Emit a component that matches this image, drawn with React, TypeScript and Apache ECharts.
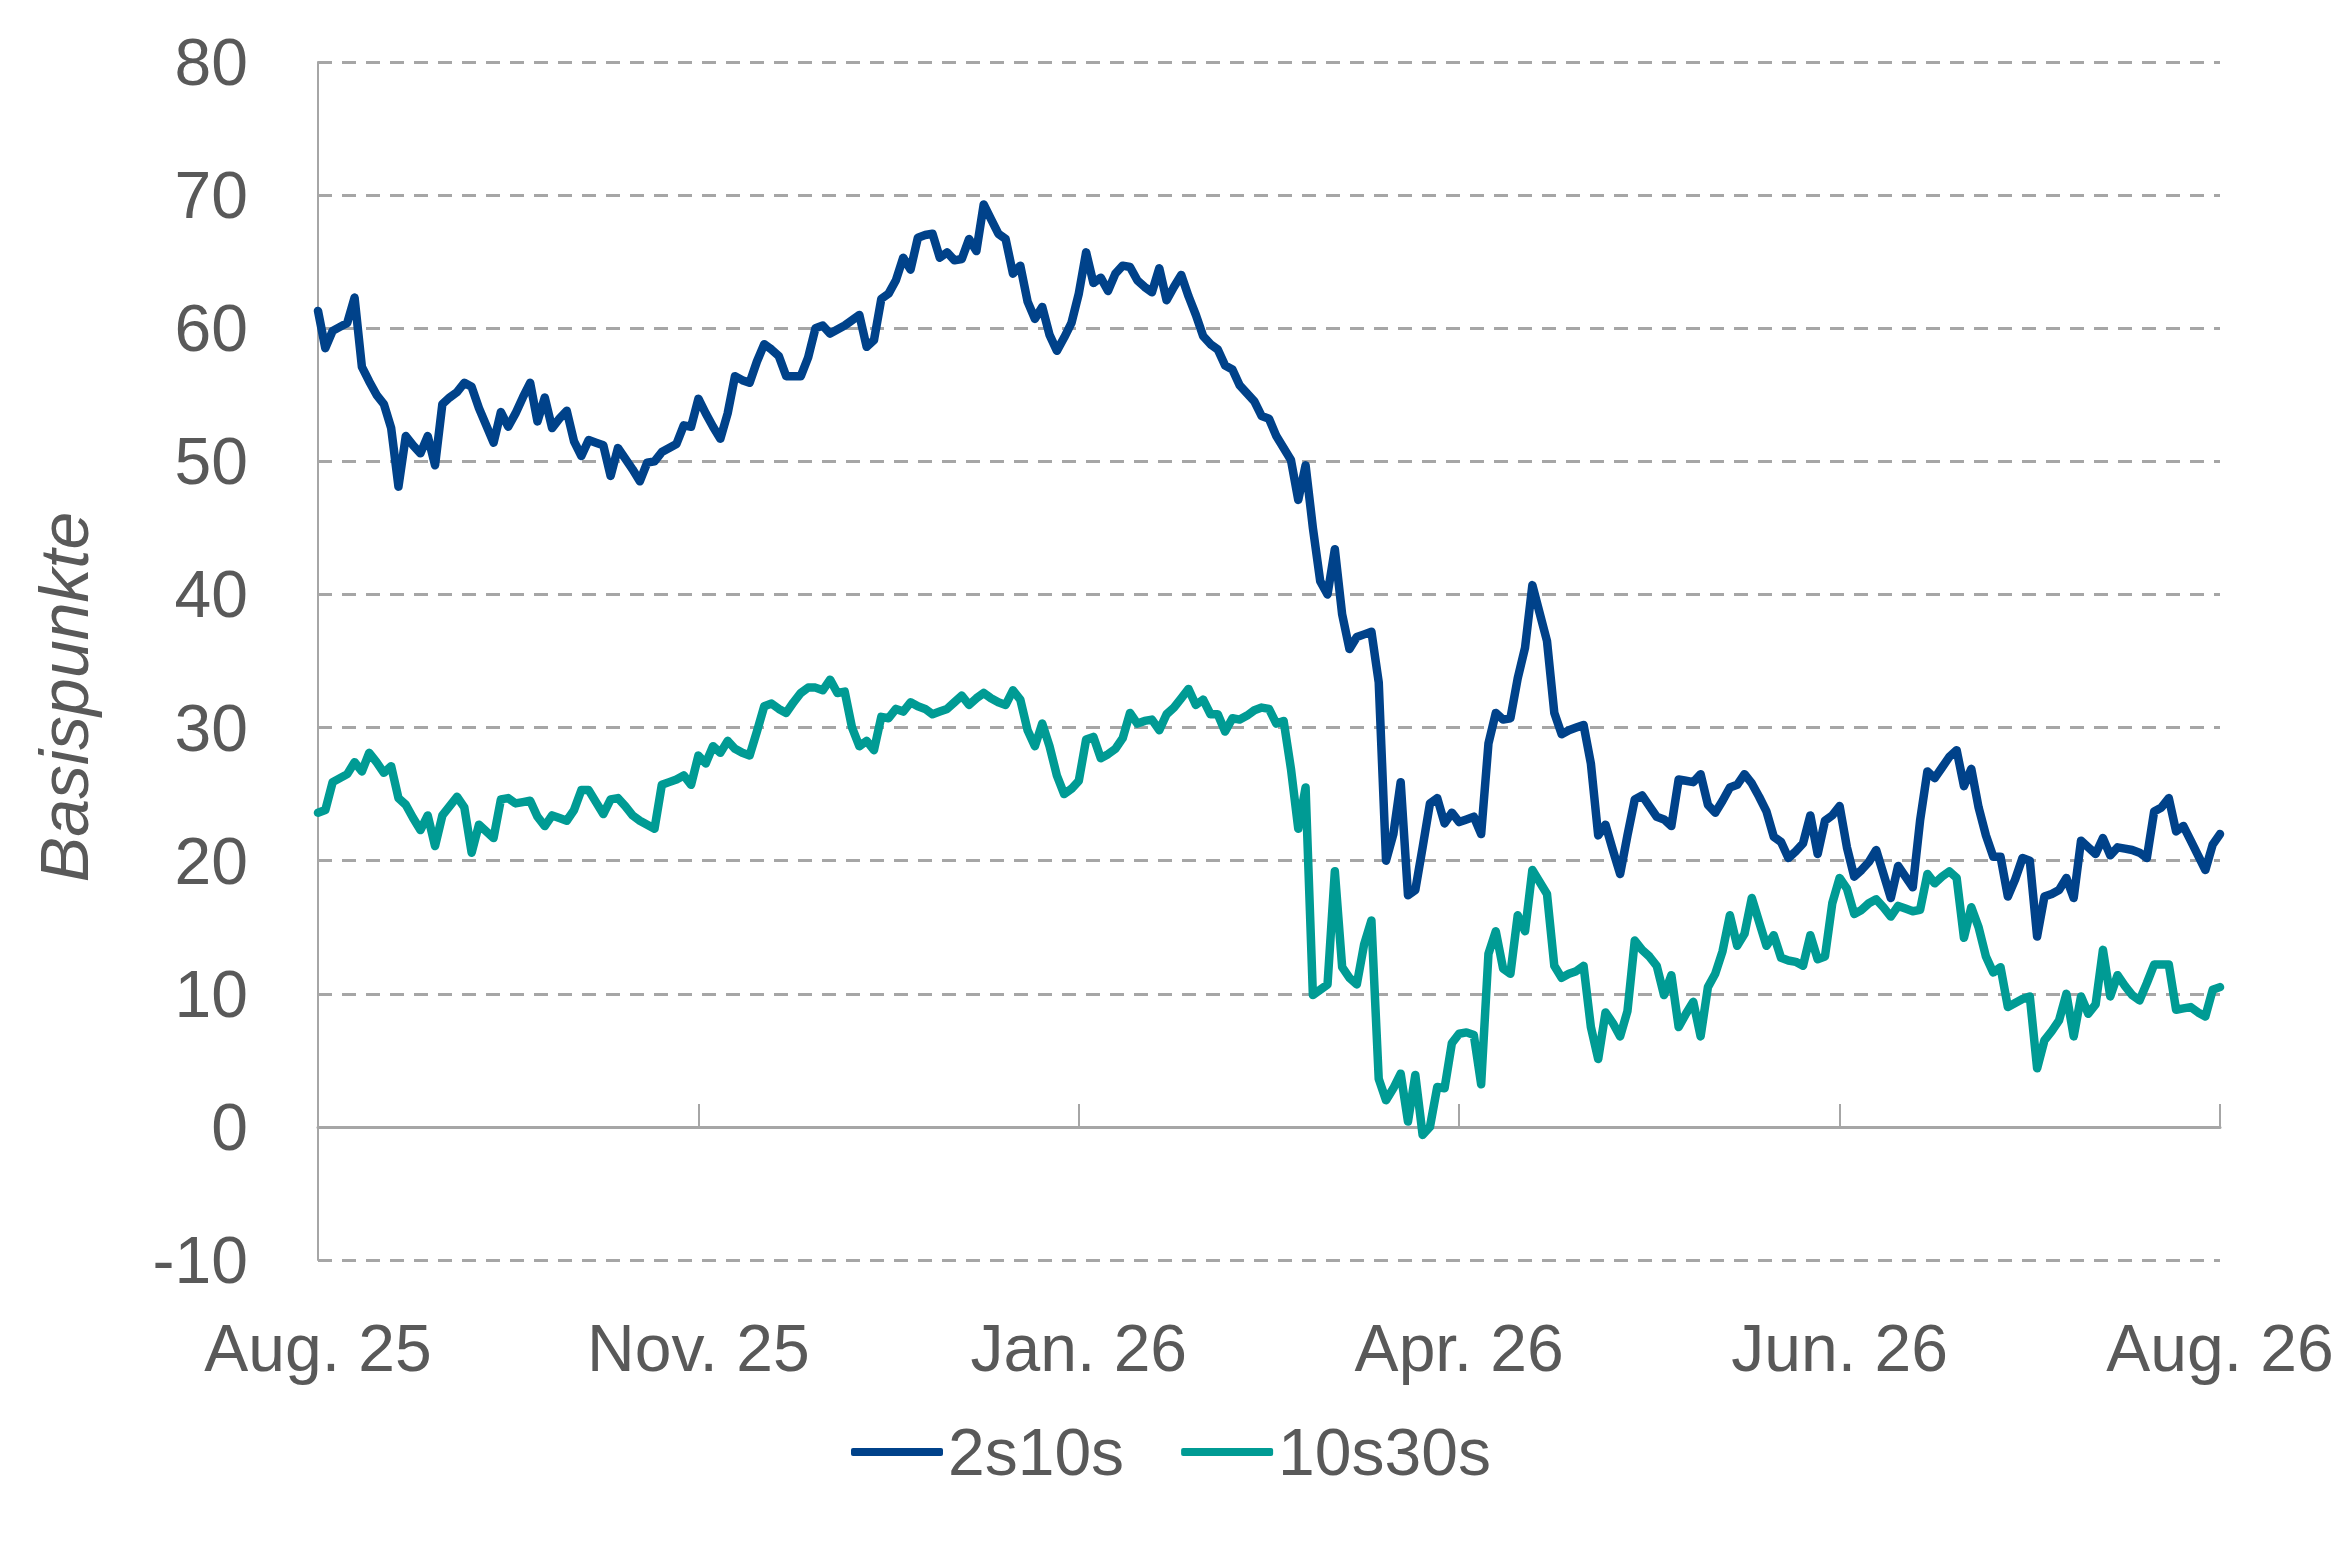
import { useEffect, useRef } from 'react';
import * as echarts from 'echarts';

// Tageswerte (Handelstage), in Basispunkten
const TICK_LABELS = ['Aug. 25', 'Nov. 25', 'Jan. 26', 'Apr. 26', 'Jun. 26', 'Aug. 26'];
const LABEL_STEP = 52;

const SPREAD_2S10S = [
  61.3, 58.5, 59.8, 60.1, 60.4, 62.3, 57.1, 56.0, 55.0, 54.3,
  52.5, 48.1, 51.9, 51.2, 50.6, 51.9, 49.7, 54.3, 54.8, 55.2,
  55.9, 55.6, 54.0, 52.7, 51.4, 53.7, 52.6, 53.6, 54.8, 55.9,
  53.0, 54.8, 52.5, 53.2, 53.8, 51.5, 50.4, 51.6, 51.4, 51.2,
  48.9, 51.0, 50.2, 49.4, 48.5, 49.9, 50.0, 50.7, 51.0, 51.3,
  52.7, 52.6, 54.7, 53.6, 52.6, 51.7, 53.6, 56.4, 56.1, 55.9,
  57.5, 58.8, 58.4, 57.9, 56.4, 56.4, 56.4, 57.8, 60.0, 60.2,
  59.6, 59.9, 60.2, 60.6, 61.0, 58.6, 59.1, 62.2, 62.6, 63.6,
  65.3, 64.4, 66.8, 67.0, 67.1, 65.3, 65.7, 65.1, 65.2, 66.7,
  65.8, 69.3, 68.2, 67.1, 66.7, 64.1, 64.7, 62.0, 60.7, 61.6,
  59.5, 58.3, 59.3, 60.4, 62.6, 65.7, 63.4, 63.8, 62.8, 64.1,
  64.7, 64.6, 63.6, 63.1, 62.7, 64.5, 62.1, 63.1, 64.0, 62.4,
  61.0, 59.4, 58.8, 58.4, 57.2, 56.9, 55.7, 55.1, 54.5, 53.4,
  53.2, 51.9, 51.0, 50.1, 47.1, 49.7, 45.0, 41.0, 40.0, 43.4,
  38.5, 35.9, 36.8, 37.0, 37.2, 33.4, 20.0, 22.0, 25.9, 17.4,
  17.8, 21.0, 24.3, 24.7, 22.8, 23.6, 22.9, 23.1, 23.3, 22.0,
  28.8, 31.1, 30.6, 30.7, 33.7, 36.0, 40.7, 38.6, 36.5, 31.1,
  29.5, 29.8, 30.0, 30.2, 27.3, 21.9, 22.7, 20.8, 19.0, 21.9,
  24.6, 24.9, 24.1, 23.3, 23.1, 22.6, 26.1, 26.0, 25.9, 26.5,
  24.2, 23.6, 24.5, 25.5, 25.7, 26.5, 25.8, 24.8, 23.7, 21.8,
  21.4, 20.2, 20.7, 21.3, 23.4, 20.5, 23.0, 23.4, 24.1, 21.0,
  18.8, 19.3, 19.9, 20.8, 19.0, 17.2, 19.6, 18.8, 18.0, 23.0,
  26.7, 26.2, 27.0, 27.8, 28.3, 25.6, 26.9, 24.0, 21.9, 20.3,
  20.3, 17.3, 18.6, 20.2, 20.0, 14.3, 17.3, 17.5, 17.8, 18.7,
  17.2, 21.5, 21.0, 20.5, 21.7, 20.4, 21.0, 20.9, 20.8, 20.6,
  20.2, 23.7, 24.0, 24.7, 22.2, 22.6, 21.5, 20.4, 19.3, 21.2,
  22.0,
];

const SPREAD_10S30S = [
  23.6, 23.8, 25.9, 26.2, 26.5, 27.4, 26.7, 28.1, 27.4, 26.6,
  27.1, 24.7, 24.2, 23.2, 22.3, 23.4, 21.1, 23.4, 24.1, 24.8,
  24.0, 20.6, 22.7, 22.2, 21.7, 24.6, 24.7, 24.3, 24.4, 24.5,
  23.3, 22.6, 23.4, 23.2, 23.0, 23.8, 25.3, 25.3, 24.4, 23.5,
  24.6, 24.7, 24.1, 23.4, 23.0, 22.7, 22.4, 25.7, 25.9, 26.1,
  26.4, 25.7, 27.9, 27.3, 28.6, 28.1, 29.0, 28.4, 28.1, 27.9,
  29.7, 31.6, 31.8, 31.4, 31.1, 31.9, 32.6, 33.0, 33.0, 32.8,
  33.6, 32.6, 32.7, 30.0, 28.6, 29.0, 28.3, 30.8, 30.7, 31.4,
  31.2, 31.9, 31.6, 31.4, 31.0, 31.2, 31.4, 31.9, 32.4, 31.7,
  32.2, 32.6, 32.2, 31.9, 31.7, 32.8, 32.1, 29.8, 28.6, 30.3,
  28.6, 26.4, 25.0, 25.4, 26.0, 29.1, 29.3, 27.7, 28.0, 28.4,
  29.2, 31.1, 30.3, 30.5, 30.6, 29.8, 31.0, 31.5, 32.2, 32.9,
  31.7, 32.1, 31.0, 31.0, 29.7, 30.7, 30.6, 30.9, 31.3, 31.5,
  31.4, 30.3, 30.5, 26.9, 22.4, 25.5, 9.9, 10.3, 10.7, 19.2,
  12.0, 11.2, 10.7, 13.7, 15.5, 3.6, 2.0, 2.9, 4.0, 0.4,
  3.9, -0.6, 0.0, 3.0, 2.9, 6.3, 7.0, 7.1, 6.9, 3.2,
  13.0, 14.7, 11.9, 11.5, 15.9, 14.7, 19.3, 18.4, 17.5, 12.1,
  11.2, 11.5, 11.7, 12.1, 7.5, 5.1, 8.6, 7.8, 6.8, 8.7,
  14.0, 13.3, 12.8, 12.1, 9.9, 11.4, 7.5, 8.5, 9.4, 6.8,
  10.5, 11.5, 13.2, 15.9, 13.6, 14.5, 17.2, 15.4, 13.6, 14.4,
  12.7, 12.5, 12.4, 12.1, 14.4, 12.6, 12.8, 16.8, 18.7, 17.9,
  16.0, 16.3, 16.8, 17.1, 16.5, 15.8, 16.6, 16.4, 16.2, 16.3,
  19.0, 18.3, 18.8, 19.2, 18.7, 14.2, 16.5, 15.0, 12.8, 11.6,
  12.0, 9.0, 9.3, 9.6, 9.8, 4.4, 6.5, 7.2, 8.0, 10.0,
  6.8, 9.8, 8.5, 9.2, 13.3, 9.8, 11.4, 10.6, 9.9, 9.5,
  10.8, 12.2, 12.2, 12.2, 8.8, 8.9, 9.0, 8.6, 8.3, 10.3,
  10.5,
];

const DAYS = SPREAD_2S10S.map((_, i) => String(i));

const FONT = "'Liberation Sans', Arial, sans-serif";
const TEXT_COLOR = '#595959';
const GRID_COLOR = '#A6A6A6';

export default function App() {
  const chartRef = useRef<HTMLDivElement>(null);

  useEffect(() => {
    if (!chartRef.current) return;
    const chart = echarts.init(chartRef.current, null, { renderer: 'svg' });

    const isLabelTick = (index: number) => index % LABEL_STEP === 0;

    const option: echarts.EChartsOption = {
      animation: false,
      backgroundColor: '#ffffff',
      textStyle: { fontFamily: FONT },
      grid: {
        left: 318,
        right: 119,
        top: 62,
        bottom: 299,
        containLabel: false,
      },
      xAxis: [
        {
          type: 'category',
          data: DAYS,
          boundaryGap: false,
          axisLine: {
            onZero: true,
            lineStyle: { color: GRID_COLOR, width: 3 },
          },
          axisTick: {
            show: true,
            inside: true,
            length: 23,
            interval: (index: number) => isLabelTick(index),
            lineStyle: { color: GRID_COLOR, width: 2 },
          },
          axisLabel: { show: false },
          splitLine: { show: false },
        },
        {
          type: 'category',
          data: DAYS,
          boundaryGap: false,
          position: 'bottom',
          axisLine: { show: false, onZero: false },
          axisTick: { show: false },
          splitLine: { show: false },
          axisLabel: {
            interval: (index: number) => isLabelTick(index),
            formatter: (_v: string, index: number) => TICK_LABELS[index / LABEL_STEP] ?? '',
            fontSize: 66,
            fontFamily: FONT,
            color: TEXT_COLOR,
            margin: 55,
          },
        },
      ],
      yAxis: {
        type: 'value',
        min: -10,
        max: 80,
        interval: 10,
        axisLine: { show: true, lineStyle: { color: GRID_COLOR, width: 2 } },
        axisTick: { show: false },
        axisLabel: {
          fontSize: 66,
          fontFamily: FONT,
          color: TEXT_COLOR,
          margin: 70,
        },
        splitLine: {
          show: true,
          lineStyle: { color: GRID_COLOR, width: 3, type: [14, 10] },
        },
      },
      legend: {
        data: ['2s10s', '10s30s'],
        left: 846,
        top: 1414,
        icon: 'roundRect',
        itemWidth: 92,
        itemHeight: 8,
        itemGap: 57,
        textStyle: { fontSize: 66, fontFamily: FONT, color: TEXT_COLOR },
      },
      graphic: [
        {
          type: 'text',
          x: 64,
          y: 697,
          rotation: Math.PI / 2,
          style: {
            text: 'Basispunkte',
            font: `italic 68px ${FONT}`,
            fill: TEXT_COLOR,
            textAlign: 'center',
            textVerticalAlign: 'middle',
          },
        },
      ],
      series: [
        {
          name: '2s10s',
          type: 'line',
          data: SPREAD_2S10S,
          symbol: 'none',
          color: '#00428A',
          lineStyle: { width: 8.5, color: '#00428A', join: 'round', cap: 'round' },
        },
        {
          name: '10s30s',
          type: 'line',
          data: SPREAD_10S30S,
          symbol: 'none',
          color: '#009B94',
          lineStyle: { width: 8.5, color: '#009B94', join: 'round', cap: 'round' },
        },
      ],
    };

    chart.setOption(option, true);

    return () => {
      chart.dispose();
    };
  }, []);

  return (
    <div
      ref={chartRef}
      style={{ position: 'fixed', left: 0, top: 0, width: '2339px', height: '1559px' }}
    />
  );
}
